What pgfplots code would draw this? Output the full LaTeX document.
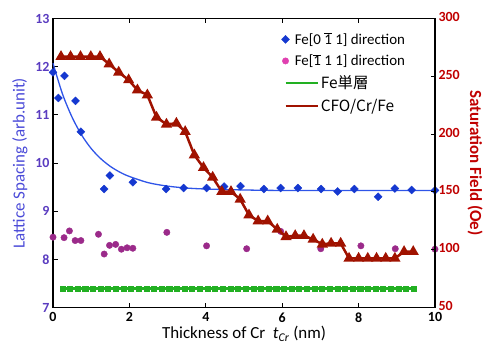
\documentclass[border=0pt]{standalone}
\usepackage{pgfplots}
\pgfplotsset{compat=1.18}
\usepackage{fontspec}
\setmainfont{Carlito}
\newfontfamily\jp{Noto Sans CJK JP}
\definecolor{leftc}{HTML}{5A3CC0}
\definecolor{leftlab}{HTML}{4A4AD8}
\definecolor{rightc}{HTML}{C00000}
\definecolor{bluem}{HTML}{1538D0}
\definecolor{bluel}{HTML}{2F55E8}
\definecolor{mag}{HTML}{9B2A8A}
\definecolor{magl}{HTML}{E040B0}
\definecolor{grn}{HTML}{22B022}
\definecolor{redc}{HTML}{A01200}
\pgfplotsset{
 markleg/.style={legend image code/.code={\draw[##1] plot coordinates {(0bp,0bp)}; \path[draw=none,fill=none] (0bp,0bp) -- (32bp,0bp);}},
 lineleg/.style={legend image code/.code={\draw[##1] (0bp,0bp) -- (32bp,0bp);}},
}
\begin{document}
\begin{tikzpicture}
\useasboundingbox (0,0) rectangle (485bp,343bp);
\begin{axis}[
 at={(53bp,35.5bp)}, anchor=south west,
 scale only axis, width=382bp, height=289bp,
 xmin=0,xmax=10,ymin=7,ymax=13,
 xtick={0,2,...,10}, ytick={7,...,13},
 tick align=inside, major tick length=4.5bp,
 xtick pos=both, xticklabel pos=bottom, ytick pos=left,
 axis line style={line width=1.3pt},
 tick style={line width=1pt, black},
 /pgf/number format/assume math mode=true,
 ticklabel style={font=\fontsize{14}{15}\selectfont\bfseries},
 yticklabel style={text=leftc},
 xticklabel style={yshift=-1.5bp},
 xlabel={Thickness of Cr\ \ \textit{t}\textsubscript{\textit{Cr}} (nm)},
 ylabel={Lattice Spacing (arb.unit)},
 ylabel style={text=leftlab, font=\fontsize{17}{18}\selectfont, yshift=1bp},
 xlabel style={font=\fontsize{17}{18}\selectfont, yshift=3bp},
 clip=false,
]
\addplot[grn, line width=2.5bp, mark=square*, mark size=1.8bp] coordinates {
(0.25,7.39)(0.45,7.39)(0.65,7.39)(0.85,7.39)(1.05,7.39)(1.25,7.39)(1.45,7.39)(1.65,7.39)(1.85,7.39)(2.05,7.39)
(2.25,7.39)(2.45,7.39)(2.65,7.39)(2.85,7.39)(3.05,7.39)(3.25,7.39)(3.45,7.39)(3.65,7.39)(3.85,7.39)(4.05,7.39)
(4.25,7.39)(4.45,7.39)(4.65,7.39)(4.85,7.39)(5.05,7.39)(5.25,7.39)(5.45,7.39)(5.65,7.39)(5.85,7.39)(6.05,7.39)
(6.25,7.39)(6.45,7.39)(6.65,7.39)(6.85,7.39)(7.05,7.39)(7.25,7.39)(7.45,7.39)(7.65,7.39)(7.85,7.39)(8.05,7.39)
(8.25,7.39)(8.45,7.39)(8.65,7.39)(8.85,7.39)(9.05,7.39)(9.25,7.39)(9.45,7.39)};
\addplot[only marks, mark=*, mark size=3.2bp, mag, mark options={draw=mag, fill=mag}] coordinates {
(0,8.46)(0.29,8.45)(0.43,8.59)(0.58,8.39)(0.73,8.39)(1.19,8.52)(1.34,8.11)(1.48,8.29)(1.64,8.31)(1.79,8.21)
(1.94,8.24)(2.09,8.23)(2.98,8.56)(4.02,8.28)(5.07,8.22)(5.96,8.58)(7.01,8.22)(8.06,8.28)(8.96,8.22)(10.0,8.21)};
\addplot[bluel, line width=1.3bp, smooth] coordinates {
(0,12.07)(0.25,11.43)(0.5,10.95)(0.75,10.58)(1,10.30)(1.25,10.09)(1.5,9.93)(1.75,9.81)(2,9.72)(2.5,9.59)
(3,9.52)(3.5,9.48)(4,9.46)(5,9.44)(6,9.43)(8,9.43)(10,9.43)};
\addplot[only marks, mark=square*, mark size=2.8bp, mark options={rotate=45, draw=bluem, fill=bluem}] coordinates {
(0,11.88)(0.14,11.35)(0.30,11.81)(0.59,11.29)(0.73,10.65)(1.34,9.46)(1.49,9.74)(2.09,9.60)(2.96,9.46)(3.42,9.48)
(4.02,9.48)(4.48,9.51)(4.91,9.52)(5.52,9.46)(5.96,9.48)(6.41,9.48)(7.02,9.46)(7.45,9.41)(7.89,9.46)(8.51,9.30)
(8.95,9.47)(9.39,9.44)(10.0,9.43)};
\end{axis}
\begin{axis}[
 at={(53bp,35.5bp)}, anchor=south west,
 scale only axis, width=382bp, height=289bp,
 xmin=0,xmax=10,ymin=50,ymax=300,
 axis x line=none, axis y line*=right,
 ytick={50,100,...,300},
 tick align=inside, major tick length=4.5bp,
 axis line style={line width=1.3pt},
 tick style={line width=1pt, black},
 /pgf/number format/assume math mode=true,
 yticklabel style={text=rightc, font=\fontsize{14}{15}\selectfont\bfseries, yshift=1.5bp},
 ylabel={Saturation Field (Oe)},
 ylabel style={rotate=180, text=rightc, font=\fontsize{17}{18}\selectfont\bfseries, yshift=1bp},
 clip=false,
 legend style={at={(0.59,0.965)}, anchor=north west, draw=none, fill=none,
   font=\fontsize{15}{16}\selectfont, row sep=4.5bp,
   /tikz/every even column/.append style={column sep=4bp}},
 legend cell align=left,
]
\addlegendimage{only marks, mark=square*, mark size=2.8bp, mark options={rotate=45, draw=bluem, fill=bluem}, markleg}
\addlegendentry{\hspace*{-26bp}Fe[0 $\overline{\mbox{1}}$ 1] direction}
\addlegendimage{only marks, mark=*, mark size=3.2bp, mark options={draw=magl, fill=magl}, markleg}
\addlegendentry{\hspace*{-26bp}Fe[$\overline{\mbox{1}}$ 1 1] direction}
\addlegendimage{grn, line width=2.5bp, lineleg}
\addlegendentry{{\jp\fontsize{15.5}{17}\selectfont Fe単層}}
\addplot[redc, line width=2.5bp, mark=triangle*, mark size=4bp, mark options={fill=redc, draw=redc}, lineleg] coordinates {
(0.21,267)(0.46,267)(0.72,267)(0.99,267)(1.23,267)(1.47,260.6)(1.72,253.5)(1.98,246.8)(2.21,238.1)(2.47,233.8)
(2.71,214.5)(2.97,208.5)(3.23,209.3)(3.46,202.1)(3.70,181.9)(3.94,171)(4.18,162.6)(4.42,150.2)(4.66,150.2)(4.90,143.6)
(5.13,130)(5.37,124.8)(5.62,124.8)(5.87,117.6)(6.10,111.2)(6.34,112.1)(6.57,112.1)(6.81,109)(7.05,104.7)(7.28,105.5)
(7.53,105.5)(7.75,92.5)(8.0,92.5)(8.24,92.5)(8.47,92.5)(8.71,92.5)(8.95,92.5)(9.19,98.3)(9.43,98.3)};
\addlegendentry{{\jp\fontsize{15.5}{17}\selectfont CFO/Cr/Fe}}
\end{axis}
\end{tikzpicture}
\end{document}
